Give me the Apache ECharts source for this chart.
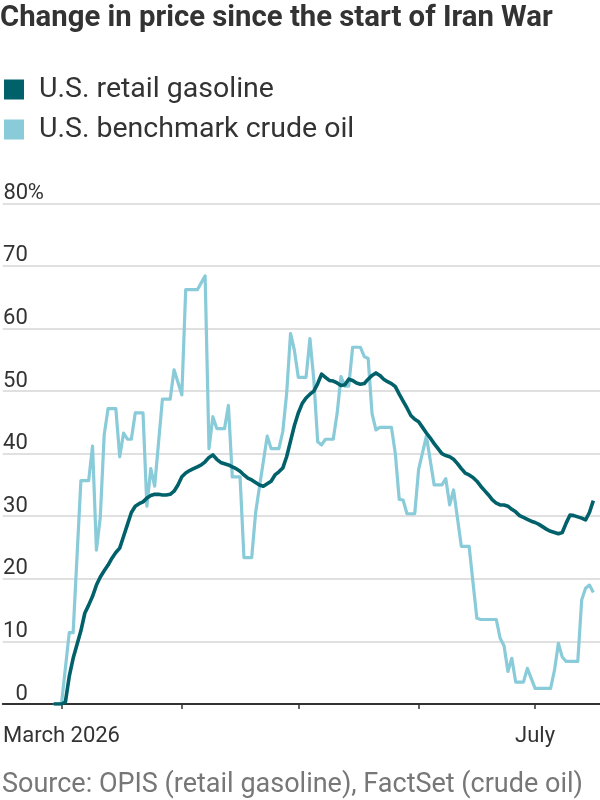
<!DOCTYPE html>
<html>
<head>
<meta charset="utf-8">
<script src="https://cdn.jsdelivr.net/npm/echarts@6/dist/echarts.min.js"></script>
<style>
html,body{margin:0;padding:0;background:#fff;}
#chart{width:600px;height:800px;}
</style>
</head>
<body>
<div id="chart"></div>
<script>
// ---- data ----
var titleText = 'Change in price since the start of Iran War';
var sourceText = 'Source: OPIS (retail gasoline), FactSet (crude oil)';
var seriesNames = ['U.S. retail gasoline', 'U.S. benchmark crude oil'];
var yTicks = [0, 10, 20, 30, 40, 50, 60, 70, 80];
var monthTicks = ['2026-03-01', '2026-04-01', '2026-05-01', '2026-06-01', '2026-07-01'];
var monthLabels = {'2026-03-01': 'March 2026', '2026-07-01': 'July'};

// Gasoline: daily values starting 2026-02-27
var gasStart = '2026-02-27';
var gasValues = [
  0, 0, 0, 0.3, 4.4, 7.3, 9.5, 11.7, 14.5, 15.8,
  17.2, 19.0, 20.3, 21.3, 22.2, 23.3, 24.2, 24.9, 26.8, 28.7,
  30.6, 31.6, 32.0, 32.3, 32.9, 33.3, 33.5, 33.5, 33.4, 33.4,
  33.5, 34.0, 35.0, 36.3, 36.9, 37.3, 37.6, 37.9, 38.2, 38.7,
  39.4, 39.8, 39.1, 38.6, 38.4, 38.2, 37.9, 37.6, 37.2, 36.6,
  36.1, 35.8, 35.4, 35.0, 34.8, 35.2, 35.6, 36.6, 37.1, 37.7,
  39.5, 42.0, 44.5, 46.5, 48.0, 48.9, 49.5, 50.0, 51.2, 52.7,
  52.2, 51.7, 51.6, 51.3, 50.9, 51.0, 51.9, 51.7, 51.3, 51.1,
  51.2, 51.9, 52.5, 52.9, 52.5, 51.9, 51.5, 51.2, 50.7, 49.5,
  48.4, 47.3, 46.1, 45.5, 45.1, 44.2, 43.3, 42.5, 41.6, 40.8,
  40.0, 39.7, 39.5, 39.1, 38.4, 37.6, 36.9, 36.6, 36.2, 35.6,
  34.8, 34.1, 33.4, 32.6, 32.1, 31.8, 31.8, 31.6, 31.1, 30.7,
  30.1, 29.8, 29.5, 29.2, 29.0, 28.7, 28.3, 27.9, 27.6, 27.4,
  27.2, 27.4, 28.9, 30.2, 30.1, 29.9, 29.7, 29.4, 30.6, 32.5
];

// Crude oil: dates and values
var crudeDates = [
  '2026-02-27','2026-03-01','2026-03-03','2026-03-04','2026-03-06','2026-03-08','2026-03-09','2026-03-10','2026-03-11','2026-03-12',
  '2026-03-13','2026-03-15','2026-03-16','2026-03-17','2026-03-18','2026-03-19','2026-03-20','2026-03-22','2026-03-23','2026-03-24',
  '2026-03-25','2026-03-27','2026-03-29','2026-03-30','2026-04-01','2026-04-02','2026-04-05','2026-04-07','2026-04-08','2026-04-09',
  '2026-04-10','2026-04-12','2026-04-13','2026-04-14','2026-04-16','2026-04-17','2026-04-19','2026-04-20','2026-04-21','2026-04-23',
  '2026-04-24','2026-04-26','2026-04-27','2026-04-28','2026-04-29','2026-04-30','2026-05-01','2026-05-03','2026-05-04','2026-05-05',
  '2026-05-06','2026-05-07','2026-05-08','2026-05-10','2026-05-11','2026-05-12','2026-05-13','2026-05-14','2026-05-15','2026-05-17',
  '2026-05-18','2026-05-19','2026-05-20','2026-05-21','2026-05-22','2026-05-25','2026-05-26','2026-05-27','2026-05-28','2026-05-29',
  '2026-05-31','2026-06-01','2026-06-03','2026-06-05','2026-06-07','2026-06-08','2026-06-09','2026-06-10','2026-06-12','2026-06-14',
  '2026-06-16','2026-06-17','2026-06-21','2026-06-22','2026-06-23','2026-06-24','2026-06-25','2026-06-26','2026-06-28','2026-06-29',
  '2026-07-01','2026-07-05','2026-07-06','2026-07-07','2026-07-08','2026-07-09','2026-07-12','2026-07-13','2026-07-14','2026-07-15',
  '2026-07-16'
];
var crudeValues = [
  0, 0, 11.4, 11.4, 35.7, 35.7, 41.2, 24.6, 29.9, 43.0,
  47.2, 47.2, 39.5, 43.3, 42.3, 42.3, 46.5, 46.5, 31.6, 37.6,
  34.8, 48.7, 48.7, 53.4, 49.4, 66.2, 66.2, 68.4, 40.8, 45.9,
  44.0, 44.0, 47.7, 36.3, 36.3, 23.4, 23.4, 30.5, 34.7, 42.8,
  40.8, 40.8, 43.5, 49.6, 59.2, 56.5, 52.2, 52.2, 58.4, 51.8,
  41.9, 41.4, 42.3, 42.3, 46.4, 52.3, 50.8, 50.8, 57.0, 57.0,
  55.5, 55.2, 46.4, 43.8, 44.2, 44.2, 40.0, 32.7, 32.6, 30.4,
  30.4, 37.5, 42.8, 35.0, 35.0, 36.0, 31.8, 34.2, 25.2, 25.2,
  13.7, 13.5, 13.5, 10.5, 9.3, 5.2, 7.3, 3.5, 3.5, 5.7,
  2.5, 2.5, 5.4, 9.7, 7.5, 6.8, 6.8, 16.6, 18.5, 19.0,
  17.8
];

// ---- helpers ----
var DAY = 86400000;
var ORIGIN = Date.UTC(2026, 2, 1);
function dayOf(s) {
  var p = s.split('-');
  return Math.round((Date.UTC(+p[0], +p[1] - 1, +p[2]) - ORIGIN) / DAY);
}
var gasStartDay = dayOf(gasStart);
var gasData = gasValues.map(function (v, i) { return [gasStartDay + i, v]; });
var crudeData = crudeDates.map(function (d, i) { return [dayOf(d), crudeValues[i]]; });
var tickDays = monthTicks.map(dayOf);
var labelDays = Object.keys(monthLabels).map(dayOf);
var labelByDay = {};
Object.keys(monthLabels).forEach(function (k) { labelByDay[dayOf(k)] = monthLabels[k]; });

var FONT = 'Roboto, "Noto Sans", sans-serif';
var TXT = '#333333';
var GAS = '#00616b';
var CRUDE = '#89cbd9';

var chart = echarts.init(document.getElementById('chart'), null, {renderer: 'canvas'});
chart.setOption({
  animation: false,
  backgroundColor: '#ffffff',
  textStyle: {fontFamily: FONT},
  title: [{
    text: titleText,
    left: 0, top: 4,
    padding: 0,
    textStyle: {fontFamily: FONT, fontWeight: 'bold', fontSize: 29.3, color: TXT}
  }, {
    text: sourceText,
    left: 2, top: 772,
    padding: 0,
    textStyle: {fontFamily: FONT, fontWeight: 'normal', fontSize: 27, color: '#777777'}
  }],
  legend: {
    data: seriesNames,
    orient: 'vertical',
    left: 4, top: 75,
    padding: 0,
    icon: 'rect',
    itemWidth: 20, itemHeight: 20,
    itemGap: 11,
    selectedMode: false,
    textStyle: {fontFamily: FONT, fontSize: 28.5, color: TXT, lineHeight: 20, padding: [0, 0, 0, 10]}
  },
  grid: {left: 0, right: 0, top: 203.3, bottom: 96, containLabel: false},
  xAxis: {
    type: 'value',
    min: -15.13, max: 138.72,
    axisLine: {show: true, lineStyle: {color: '#333333', width: 2}},
    axisTick: {show: true, customValues: tickDays, length: 5, lineStyle: {color: '#333333', width: 1.5}},
    axisLabel: {
      customValues: labelDays,
      formatter: function (v) { return labelByDay[Math.round(v)] || ''; },
      fontFamily: FONT, fontSize: 22, color: TXT, margin: 21
    },
    splitLine: {show: false}
  },
  yAxis: {
    type: 'value',
    min: 0, max: 80, interval: 10,
    axisLine: {show: false},
    axisTick: {show: false},
    splitLine: {show: true, lineStyle: {color: '#e0e0e0', width: 2}},
    axisLabel: {
      inside: true,
      margin: 1,
      align: 'left',
      verticalAlign: 'bottom',
      padding: [0, 0, -1, 0],
      fontFamily: FONT, fontSize: 22, color: TXT, lineHeight: 22,
      formatter: function (v) { return v === 80 ? '{n|80}%' : '{n|' + v + '}'; },
      rich: {n: {width: 24, align: 'right', fontFamily: FONT, fontSize: 22, color: TXT, lineHeight: 22}}
    }
  },
  series: [{
    name: seriesNames[1],
    type: 'line',
    data: crudeData,
    showSymbol: false,
    color: CRUDE,
    lineStyle: {color: CRUDE, width: 3.2, join: 'round'},
    z: 2
  }, {
    name: seriesNames[0],
    type: 'line',
    data: gasData,
    showSymbol: false,
    color: GAS,
    lineStyle: {color: GAS, width: 3.6, join: 'round'},
    z: 3
  }]
});
</script>
</body>
</html>
